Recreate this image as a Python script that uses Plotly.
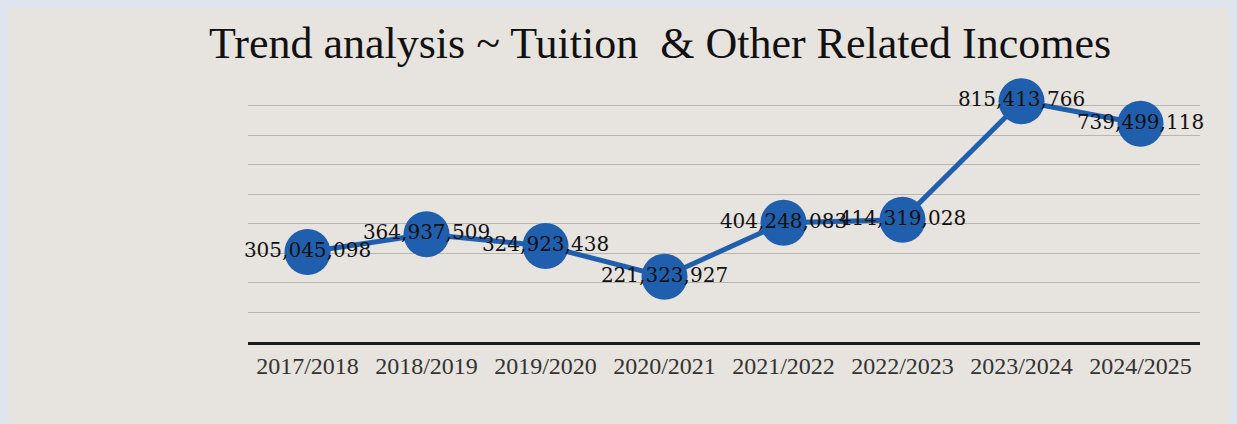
import plotly.graph_objects as go

years = ["2017/2018", "2018/2019", "2019/2020", "2020/2021",
         "2021/2022", "2022/2023", "2023/2024", "2024/2025"]
incomes = [305045098, 364937509, 324923438, 221323927,
           404248083, 414319028, 815413766, 739499118]

# the page body keeps its 8px margin, which stands in for the photo's blue edge
W, H = 1229, 416
L, R, T, B = 240, 37, 86, 82

fig = go.Figure()

fig.add_trace(
    go.Scatter(
        x=years,
        y=incomes,
        mode="lines+markers+text",
        line=dict(color="#1f5fae", width=5),
        marker=dict(color="#1f5fae", size=46),
        text=[f"{v:,}" for v in incomes],
        textposition="middle center",
        textfont=dict(family="DejaVu Serif", size=20, color="#111111"),
        cliponaxis=False,
        hoverinfo="skip",
    )
)

fig.update_layout(
    width=W,
    height=H,
    margin=dict(l=L, r=R, t=T, b=B),
    paper_bgcolor="#e7e3de",
    plot_bgcolor="rgba(0,0,0,0)",
    showlegend=False,
    title=dict(
        text="Trend analysis ~ Tuition\u00a0 & Other Related Incomes",
        x=0.5305, xanchor="center", y=0.916, yanchor="middle",
        font=dict(family="Liberation Serif", size=44, color="#111111"),
    ),
    xaxis=dict(
        type="category",
        range=[-0.5, 7.5],
        showgrid=False,
        showline=True,
        linecolor="#1a1a1a",
        linewidth=3,
        ticks="",
        tickfont=dict(family="Liberation Serif", size=24, color="#333333"),
    ),
    yaxis=dict(
        range=[0, 840000000],
        dtick=100000000,
        showgrid=True,
        gridcolor="#b9b5b0",
        gridwidth=1,
        zeroline=False,
        showticklabels=False,
        ticks="",
    ),
)

fig.write_html(
    "out.html",
    post_script="document.body.style.backgroundColor='#dfe5ee';",
)
